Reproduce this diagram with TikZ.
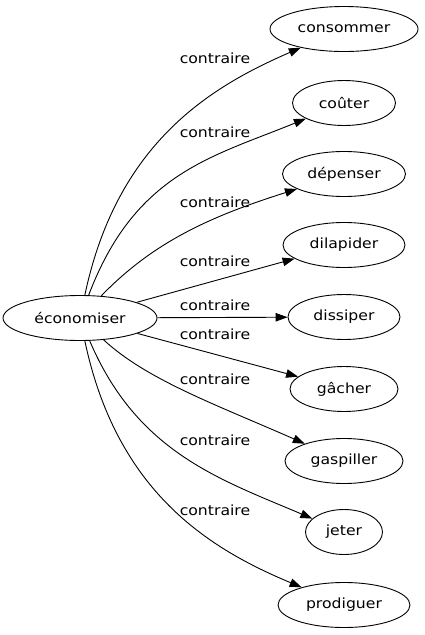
\documentclass[tikz,border=0pt]{standalone}
\usepackage{fontspec}
\setmainfont{DejaVu Sans}[FakeStretch=1.12]
\usepackage{tikz}
\usetikzlibrary{shapes.geometric, arrows.meta, positioning}

\begin{document}
\begin{tikzpicture}[
  x=1pt, y=-1pt,
  word/.style={ellipse, draw, line width=0.9pt, inner sep=2pt,
               minimum height=45pt, font=\fontsize{14}{16}\selectfont},
  link/.style={-{Triangle[length=12pt, width=8.5pt]}, line width=0.9pt},
  rel/.style={font=\fontsize{14}{16}\selectfont, inner sep=0pt}
]
  \useasboundingbox (0,0) rectangle (424,635);

  \node[word, minimum width=154pt] (eco) at (80,318) {économiser};

  \node[word, minimum width=148pt] (cons) at (344,29)  {consommer};
  \node[word, minimum width=103pt] (cout) at (344,103) {coûter};
  \node[word, minimum width=123pt] (depe) at (344,174) {dépenser};
  \node[word, minimum width=122pt] (dila) at (344,245) {dilapider};
  \node[word, minimum width=112pt] (diss) at (344,317) {dissiper};
  \node[word, minimum width=108pt] (gach) at (344,389) {gâcher};
  \node[word, minimum width=118pt] (gasp) at (344,461) {gaspiller};
  \node[word, minimum width=77pt]  (jete) at (344,532) {jeter};
  \node[word, minimum width=132pt] (prod) at (344,605) {prodiguer};

  \draw[link] (eco) .. controls (117,143) and (210,87) .. (cons)
    node[rel] at (215,58) {contraire};
  \draw[link] (eco) .. controls (135,173) and (212,157) .. (cout)
    node[rel] at (215,132) {contraire};
  \draw[link] (eco) .. controls (155,240) and (215,215) .. (depe)
    node[rel] at (215,202) {contraire};
  \draw[link] (eco) -- (dila)
    node[rel] at (215,261) {contraire};
  \draw[link] (eco) -- (diss)
    node[rel] at (215,305) {contraire};
  \draw[link] (eco) -- (gach)
    node[rel] at (215,334) {contraire};
  \draw[link] (eco) .. controls (147,380) and (217,405) .. (gasp)
    node[rel] at (215,379) {contraire};
  \draw[link] (eco) .. controls (137,452) and (219,479) .. (jete)
    node[rel] at (215,440) {contraire};
  \draw[link] (eco) .. controls (117,493) and (210,549) .. (prod)
    node[rel] at (215,510) {contraire};
\end{tikzpicture}
\end{document}
